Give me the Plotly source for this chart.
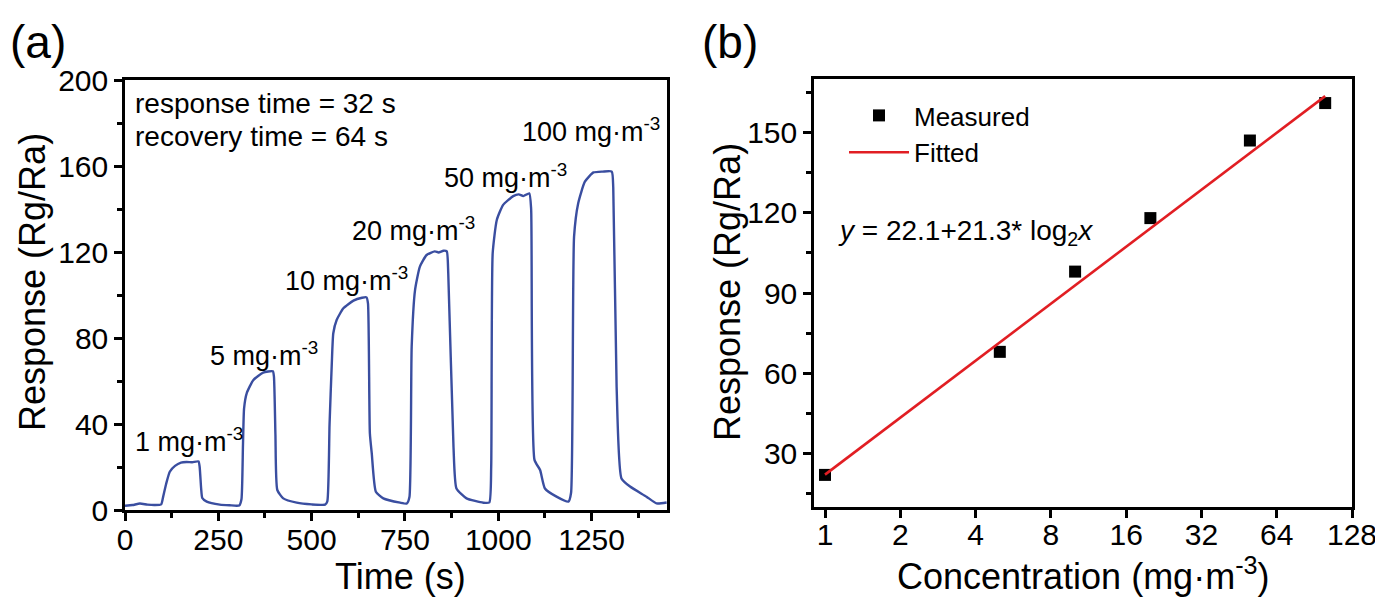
import plotly.graph_objects as go

# ---------------- data: panel (a) ----------------
time_s = [0, 20, 40, 60, 80, 97,
          102, 110, 120, 134, 150, 165, 180, 197,
          200, 204, 207, 219, 254, 280, 306,
          312, 316, 319, 326, 344, 370, 396,
          399, 403, 408, 424, 460, 500, 536,
          542, 548, 554, 558, 567, 585, 612, 635, 647,
          651, 656, 661, 672, 692, 737, 755,
          762, 768, 777, 790, 808, 830, 840, 853, 862,
          866, 880, 888, 915, 960, 976,
          981, 985, 996, 1013, 1040, 1055, 1067, 1083,
          1088, 1097, 1112, 1125, 1156, 1188,
          1195, 1203, 1214, 1232, 1255, 1280, 1304,
          1308, 1317, 1330, 1353, 1397, 1424, 1451]
response = [2.0, 2.3, 3.0, 2.5, 2.3, 2.6,
            6, 12, 17.8, 20.5, 22.0, 22.3, 22.2, 22.6,
            20, 10, 5.6, 3.9, 2.5, 2.2, 2.1,
            5, 30, 47.3, 54.3, 60.5, 63.9, 64.5,
            62, 35, 9.3, 5.4, 3.4, 2.6, 2.5,
            4, 40, 68.2, 82.2, 88.4, 93.8, 97.4, 98.7, 98.9,
            96, 35.7, 26.4, 8.5, 5.4, 3.4, 3.0,
            6, 76, 102.3, 113.2, 118.6, 120.3, 119.8, 120.6, 120.3,
            110, 29.5, 10, 5.4, 3.4, 3.5,
            20, 119.4, 134.9, 141.9, 146.0, 146.8, 146.0, 147.3,
            140, 23.3, 18.6, 10, 6.2, 3.9,
            8, 127, 142.6, 152.7, 157.0, 157.4, 157.4,
            150, 57.3, 14.7, 10.9, 6.2, 3.1, 3.5]

conc_labels = ["1 mg·m<sup>-3</sup>", "5 mg·m<sup>-3</sup>", "10 mg·m<sup>-3</sup>",
               "20 mg·m<sup>-3</sup>", "50 mg·m<sup>-3</sup>", "100 mg·m<sup>-3</sup>"]
label_t = [21, 222, 423, 603, 849, 1058]
label_v = [32.6, 72.6, 107.4, 130.7, 155.3, 176.7]

# ---------------- data: panel (b) ----------------
conc = [1, 5, 10, 20, 50, 100]
measured = [22, 68, 98, 118, 147, 161]
fit_x = [1, 100]
fit_y = [22.1, 163.6]
x_tickvals = [1, 2, 4, 8, 16, 32, 64, 128]
x_ticktext = ["1", "2", "4", "8", "16", "32", "64", "128"]

FONT = "Liberation Sans, Arial, sans-serif"
BLUE = "rgb(58,78,160)"
RED = "rgb(225,30,35)"
OFF = 8                      # default page body margin in the browser
W, H = 1383 - OFF, 597 - OFF

fig = go.Figure()
fig.add_trace(go.Scatter(x=time_s, y=response, mode="lines",
                         line=dict(color=BLUE, width=2.4, shape="spline", smoothing=0.5),
                         showlegend=False, xaxis="x", yaxis="y"))
fig.add_trace(go.Scatter(x=conc, y=measured, mode="markers", name="Measured",
                         marker=dict(symbol="square", size=12, color="black"),
                         xaxis="x2", yaxis="y2"))
fig.add_trace(go.Scatter(x=fit_x, y=fit_y, mode="lines", name="Fitted",
                         line=dict(color=RED, width=2.6),
                         xaxis="x2", yaxis="y2"))

axis_common = dict(showline=True, linecolor="black", linewidth=2.5, mirror=True,
                   ticks="outside", ticklen=8, tickwidth=2.5, tickcolor="black",
                   showgrid=False, zeroline=False, automargin=False,
                   tickfont=dict(family=FONT, size=30, color="black"))

def px_x(p):
    return (p - OFF) / W

def px_y(p):
    return 1 - (p - OFF) / H

fig.update_layout(
    width=W, height=H,
    margin=dict(l=0, r=0, t=0, b=0, autoexpand=False),
    paper_bgcolor="white", plot_bgcolor="white",
    font=dict(family=FONT, color="black"),
    xaxis=dict(domain=[px_x(125), px_x(667)], range=[0, 1452], dtick=250, tick0=0,
               anchor="y", ticklabelstandoff=-7,
               minor=dict(ticks="outside", ticklen=5, tickwidth=2.5, dtick=125, tick0=0, tickcolor="black"),
               **axis_common),
    yaxis=dict(domain=[px_y(510), px_y(80)], range=[0, 200], dtick=40, tick0=0,
               anchor="x",
               minor=dict(ticks="outside", ticklen=5, tickwidth=2.5, dtick=20, tick0=0, tickcolor="black"),
               **axis_common),
    xaxis2=dict(domain=[px_x(814), px_x(1352)], type="log", range=[-0.044, 2.1072],
                tickvals=x_tickvals, ticktext=x_ticktext, anchor="y2", ticklabelstandoff=-9,
                **axis_common),
    yaxis2=dict(domain=[px_y(507), px_y(79)], range=[10, 170], dtick=30, tick0=0,
                anchor="x2",
                minor=dict(ticks="outside", ticklen=5, tickwidth=2.5, dtick=15, tick0=0, tickcolor="black"),
                **axis_common),
    legend=dict(x=px_x(844), y=px_y(92), xanchor="left", yanchor="top",
                bgcolor="rgba(0,0,0,0)", borderwidth=0,
                font=dict(family=FONT, size=26, color="black"),
                itemwidth=60, tracegroupgap=0),
)

ann = []
# panel letters
ann.append(dict(text="(a)", x=px_x(38), y=px_y(42), xref="paper", yref="paper",
                showarrow=False, xanchor="center", yanchor="middle",
                font=dict(family=FONT, size=46)))
ann.append(dict(text="(b)", x=px_x(730), y=px_y(42), xref="paper", yref="paper",
                showarrow=False, xanchor="center", yanchor="middle",
                font=dict(family=FONT, size=46)))
# axis titles
ann.append(dict(text="Response (Rg/Ra)", x=px_x(33), y=px_y(282), xref="paper", yref="paper",
                textangle=-90, showarrow=False, xanchor="center", yanchor="middle",
                font=dict(family=FONT, size=36)))
ann.append(dict(text="Time (s)", x=px_x(400), y=px_y(576), xref="paper", yref="paper",
                showarrow=False, xanchor="center", yanchor="middle",
                font=dict(family=FONT, size=36)))
ann.append(dict(text="Response (Rg/Ra)", x=px_x(727), y=px_y(292), xref="paper", yref="paper",
                textangle=-90, showarrow=False, xanchor="center", yanchor="middle",
                font=dict(family=FONT, size=36)))
ann.append(dict(text="Concentration (mg·m<sup>-3</sup>)", x=px_x(1083), y=px_y(574),
                xref="paper", yref="paper",
                showarrow=False, xanchor="center", yanchor="middle",
                font=dict(family=FONT, size=36)))
# panel (a) texts
ann.append(dict(text="response time = 32 s", x=21, y=189.3, xref="x", yref="y",
                showarrow=False, xanchor="left", yanchor="middle",
                font=dict(family=FONT, size=28)))
ann.append(dict(text="recovery time = 64 s", x=21, y=173.5, xref="x", yref="y",
                showarrow=False, xanchor="left", yanchor="middle",
                font=dict(family=FONT, size=28)))
for txt, tx, ty in zip(conc_labels, label_t, label_v):
    ann.append(dict(text=txt, x=tx, y=ty, xref="x", yref="y",
                    showarrow=False, xanchor="left", yanchor="middle",
                    font=dict(family=FONT, size=27)))
# panel (b) formula
ann.append(dict(text="<i>y</i> = 22.1+21.3* log<sub>2</sub><i>x</i>", x=0.045, y=112.8,
                xref="x2", yref="y2", showarrow=False, xanchor="left", yanchor="middle",
                font=dict(family=FONT, size=28)))
fig.update_layout(annotations=ann)

fig.write_html("out.html")
